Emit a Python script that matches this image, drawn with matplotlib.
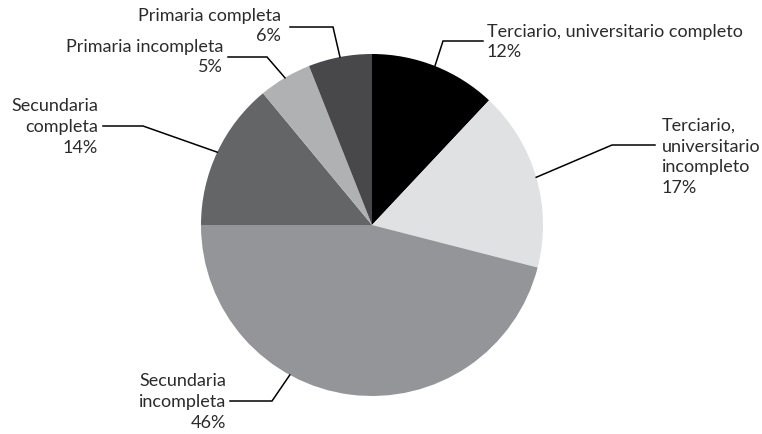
import numpy as np
import matplotlib
matplotlib.use("Agg")
import matplotlib.pyplot as plt

labels = ["Terciario, universitario completo", "Terciario,\nuniversitario\nincompleto",
          "Secundaria\nincompleta", "Secundaria\ncompleta",
          "Primaria incompleta", "Primaria completa"]
values = [12, 17, 46, 14, 5, 6]
colors = ["#000000", "#e0e1e2", "#949598", "#646567", "#b0b1b3", "#48484a"]

W, H = 762, 435
cx, cy, r = 372, 226, 171

# leader layout (pixels, y down): elbow, end of horizontal, text x, alignment
elbows = [(443, 42), (612, 146), (272, 402), (143, 127), (267, 58), (333, 28)]
ends = [483, 655, 230, 103, 228, 290]
text_x = [487, 662, 226, 98, 223, 281]
text_y = [42, 157, 402, 127, 57, 26]
aligns = ["left", "left", "right", "right", "right", "right"]
# where the leader touches the slice, as fraction of the slice (0.5 = middle)
touch = [0.5, 0.5, 0.63, 0.5, 0.5, 0.5]

plt.rcParams["font.family"] = ["Lato", "DejaVu Sans"]
fig = plt.figure(figsize=(W / 100, H / 100), dpi=100)
ax = fig.add_axes([0, 0, 1, 1])

ax.pie(values, colors=colors, startangle=90, counterclock=False,
       center=(cx, H - cy), radius=r, frame=True,
       wedgeprops=dict(linewidth=0))
ax.set_xlim(0, W)
ax.set_ylim(0, H)
ax.set_aspect("equal")
ax.axis("off")

total = float(sum(values))
start = 0.0
for i, v in enumerate(values):
    frac = (start + v * touch[i]) / total
    th = 2 * np.pi * frac
    px = cx + r * np.sin(th)
    py = cy - r * np.cos(th)
    ex, ey = elbows[i]
    ax.plot([px, ex, ends[i]], [H - py, H - ey, H - ey], color="black", lw=1.1,
            solid_joinstyle="miter")
    txt = labels[i] + "\n" + "%d%%" % v
    ax.text(text_x[i], H - text_y[i], txt, ha=aligns[i], va="center",
            multialignment=aligns[i], fontsize=13, color="#2b2b2b",
            linespacing=1.38)
    start += v

fig.savefig("out.png", dpi=100)
